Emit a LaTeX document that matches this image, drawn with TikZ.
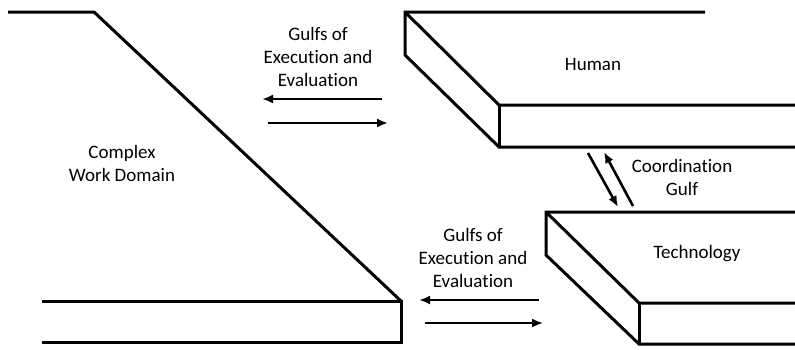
\documentclass[tikz,border=0pt]{standalone}
\usepackage{fontspec}
\setmainfont{Carlito}[Ligatures={NoCommon,NoContextual}]
\usetikzlibrary{arrows.meta}

\begin{document}
\begin{tikzpicture}[x=1pt,y=-1pt,line width=3pt,
  lbl/.style={font=\fontsize{19}{23}\selectfont,align=center},
  gulf/.style={line width=2.6pt,-{Latex[length=11pt,width=9pt]}}]
  \useasboundingbox (0,0) rectangle (795,349);
  % work domain
  \draw (8,12) -- (94,12) -- (401,301);
  \draw (42,301) -- (401,301) -- (401,342) -- (42,342);
  % human slab
  \draw (705,12) -- (405,12) -- (405,55) -- (499,147) -- (795,147);
  \draw (405,12) -- (499,105) -- (795,105);
  \draw (499,105) -- (499,147);
  % technology slab
  \draw (795,212) -- (546,212) -- (546,255) -- (639,344) -- (795,344);
  \draw (546,212) -- (639,303) -- (795,303);
  \draw (639,303) -- (639,344);
  % labels
  \node[lbl] (domain) at (122,163) {Complex\\Work Domain};
  \node[lbl] (human) at (593,64) {Human};
  \node[lbl] (tech) at (697,254) {Technology};
  \node[lbl] (coord) at (682,177) {Coordination\\Gulf};
  \node[lbl] (gulftop) at (318,57) {Gulfs of\\Execution and\\Evaluation};
  \node[lbl] (gulfbot) at (473,258) {Gulfs of\\Execution and\\Evaluation};
  % arrows
  \coordinate (ht1) at (382,99);  \coordinate (ht2) at (262,99);
  \coordinate (th1) at (268,123); \coordinate (th2) at (388,123);
  \coordinate (tb1) at (539,300); \coordinate (tb2) at (419,300);
  \coordinate (bt1) at (425,323); \coordinate (bt2) at (543,323);
  \coordinate (hc1) at (588,153); \coordinate (hc2) at (618,207);
  \coordinate (ch1) at (633,206); \coordinate (ch2) at (604,152);
  \foreach \s/\e in {ht1/ht2,th1/th2,tb1/tb2,hc1/hc2,ch1/ch2}
  {
    \draw[gulf] (\s) -- (\e);
  }
  \draw[gulf,line width=1.8pt] (bt1) -- (bt2);
\end{tikzpicture}
\end{document}
